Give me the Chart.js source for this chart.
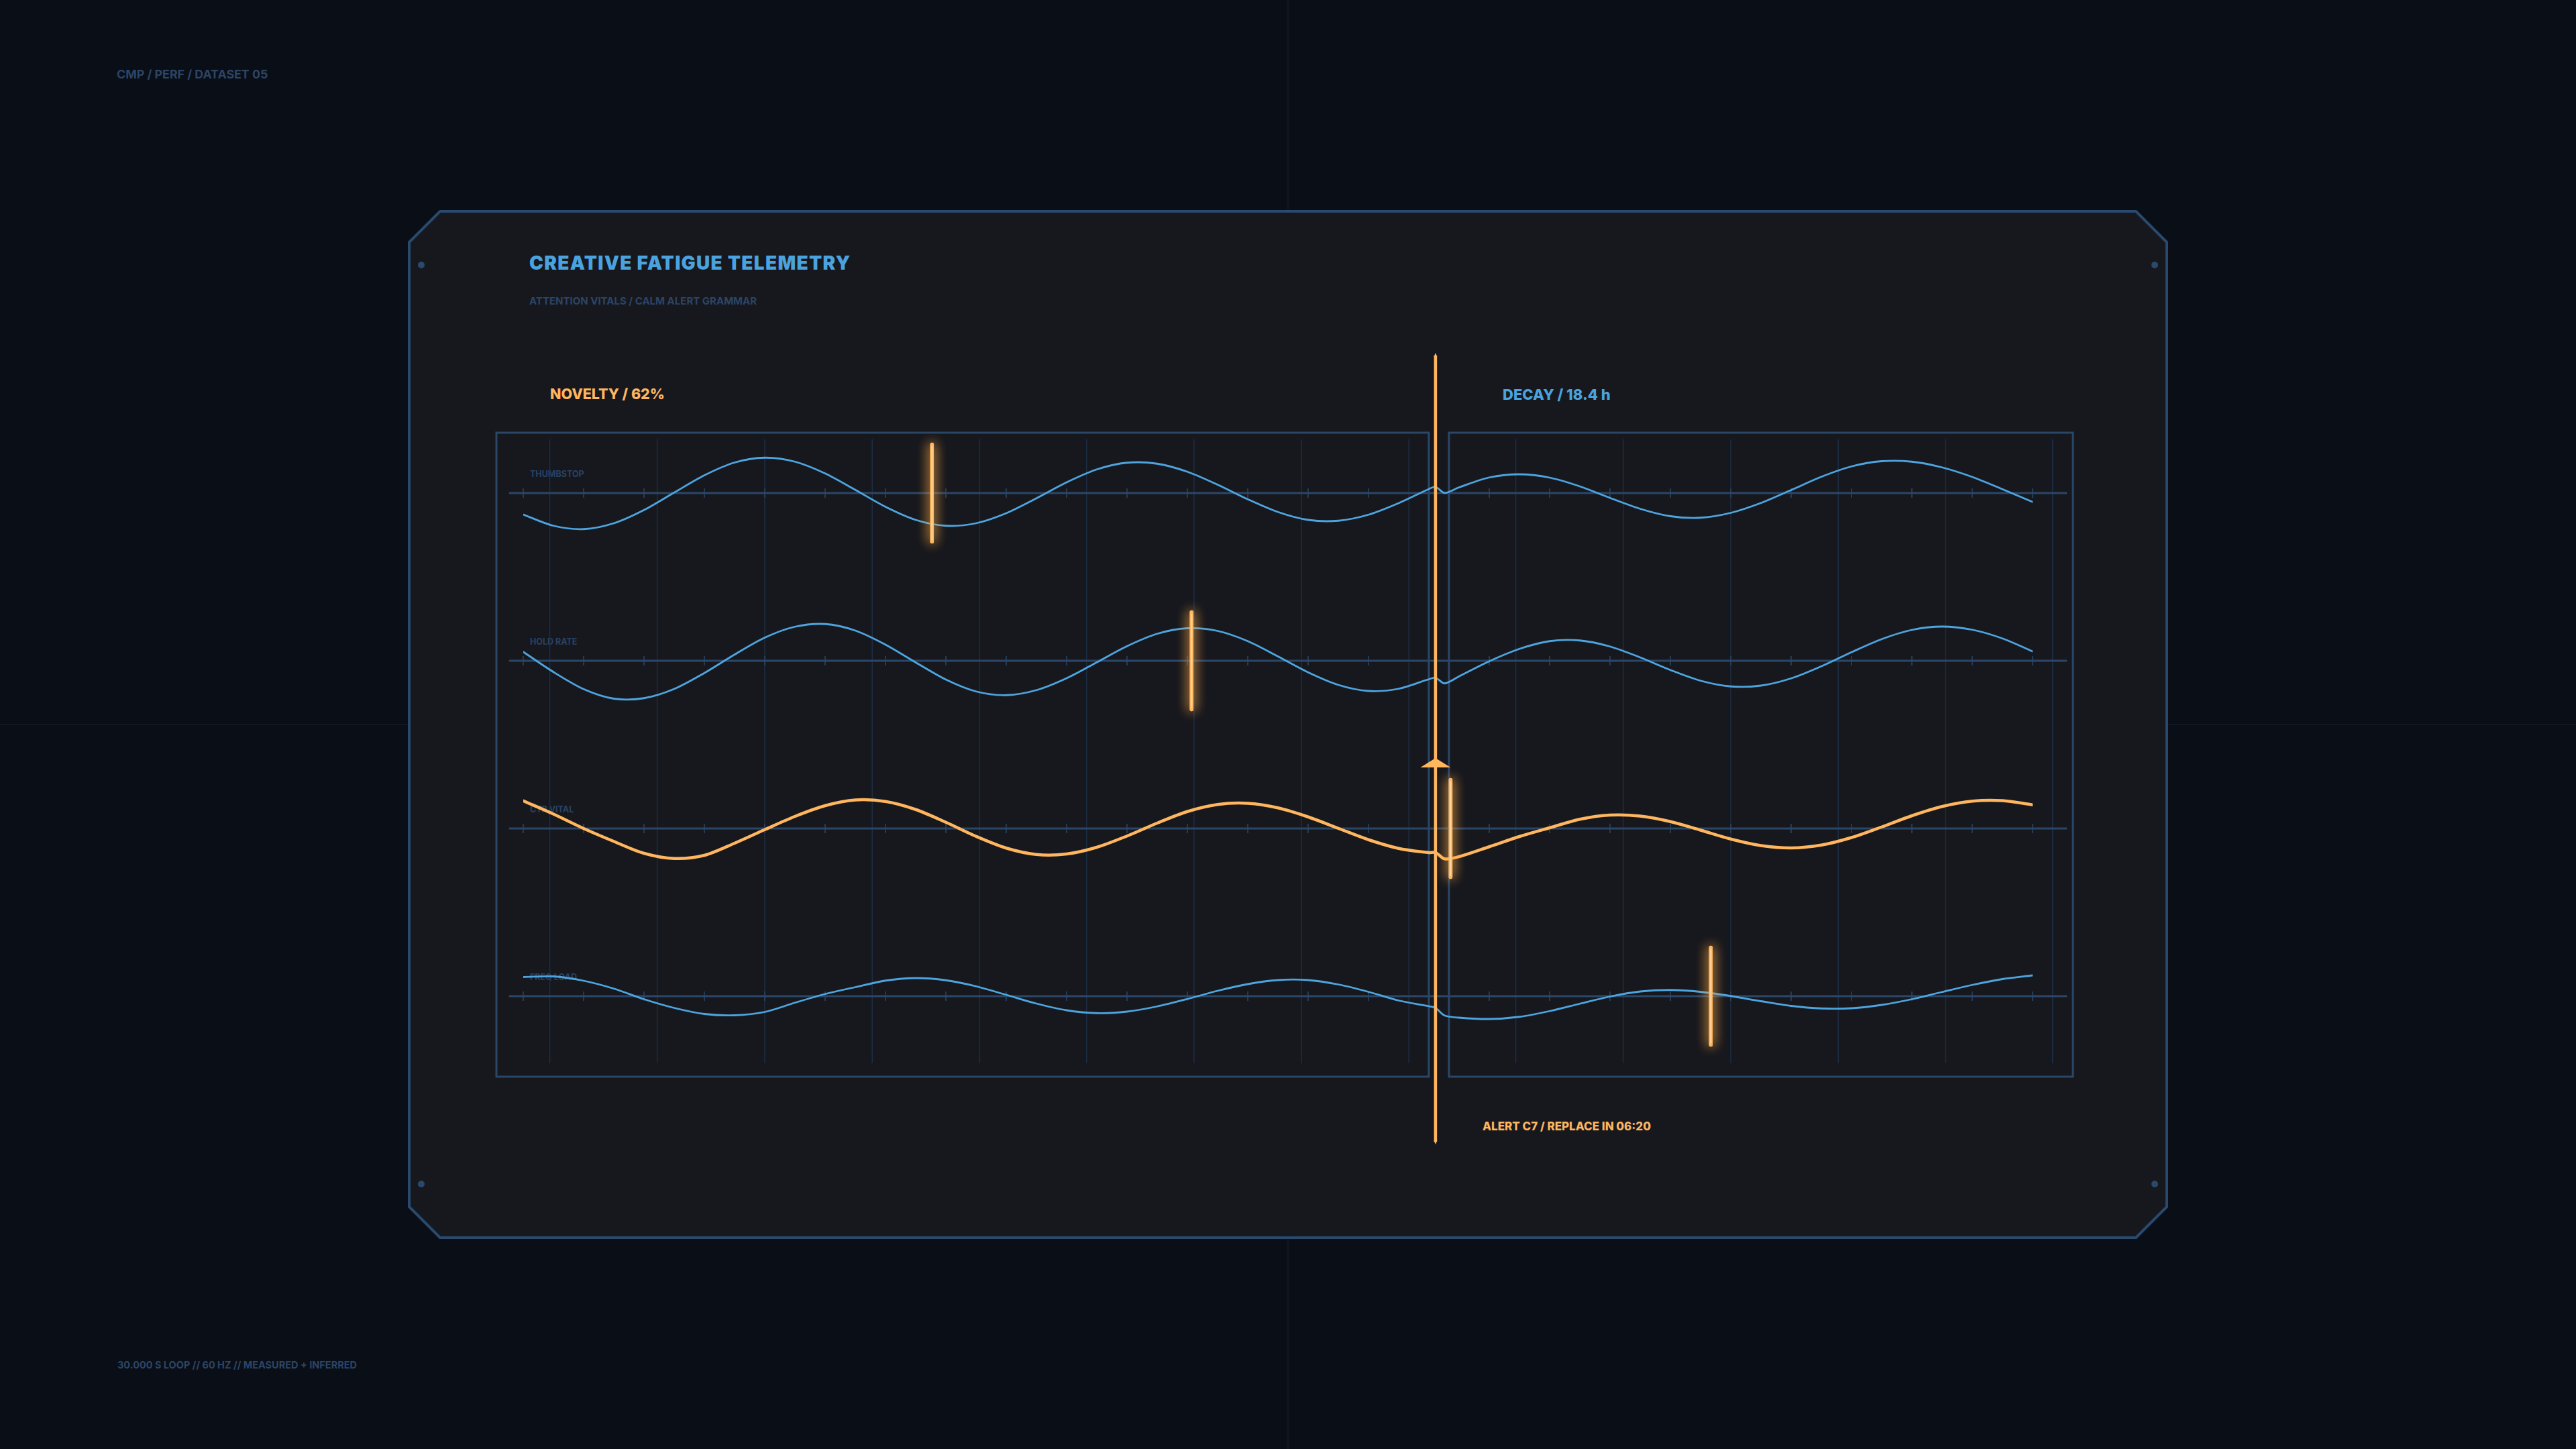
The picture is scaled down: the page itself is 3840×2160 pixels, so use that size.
<!DOCTYPE html>
<html>
<head>
<meta charset="utf-8">
<title>Creative Fatigue Telemetry</title>
<script src="https://cdn.jsdelivr.net/npm/chart.js@4.4.1/dist/chart.umd.min.js"></script>
<style>
  html, body { margin:0; padding:0; width:3840px; height:2160px; overflow:hidden; background:#0a0e16; }
  #stage { position:relative; width:3840px; height:2160px; font-family: Inter, "Noto Sans", "DejaVu Sans", sans-serif; }
  #frame { position:absolute; left:0; top:0; }
  #chart { position:absolute; left:0; top:0; width:3840px; height:2160px; }
  .txt { position:absolute; white-space:nowrap; line-height:1; transform:translateY(-50%); }
</style>
</head>
<body>
<div id="stage">
  <svg id="frame" width="3840" height="2160" viewBox="0 0 3840 2160">
    <line x1="1920" y1="0" x2="1920" y2="2160" stroke="#111722" stroke-width="2"/>
    <line x1="0" y1="1080" x2="3840" y2="1080" stroke="#111722" stroke-width="2"/>
    <polygon points="656,315 3184,315 3230,361 3230,1799 3184,1845 656,1845 610,1799 610,361" fill="#16181e" stroke="#2a4a6d" stroke-width="4"/>
    <circle cx="628" cy="395" r="5" fill="#2a4a6d"/>
    <circle cx="3212" cy="395" r="5" fill="#2a4a6d"/>
    <circle cx="628" cy="1765" r="5" fill="#2a4a6d"/>
    <circle cx="3212" cy="1765" r="5" fill="#2a4a6d"/>
  </svg>
  <div class="txt" style="left:174px;top:111px;font-size:17.8px;font-weight:700;color:#2c4566">CMP / PERF / DATASET 05</div>
  <div class="txt" style="left:789px;top:392px;font-size:28px;font-weight:900;letter-spacing:1.3px;color:#4aa3df">CREATIVE FATIGUE TELEMETRY</div>
  <div class="txt" style="left:789px;top:448px;font-size:15px;font-weight:700;color:#2c4566">ATTENTION VITALS / CALM ALERT GRAMMAR</div>
  <div class="txt" style="left:820px;top:588px;font-size:21.5px;font-weight:800;color:#ffb65e">NOVELTY / 62%</div>
  <div class="txt" style="left:2240px;top:588px;font-size:22px;font-weight:800;color:#4aa3df">DECAY / 18.4 h</div>
  <div class="txt" style="left:2210px;top:1679px;font-size:17px;font-weight:800;color:#ffb65e">ALERT C7 / REPLACE IN 06:20</div>
  <div class="txt" style="left:175px;top:2035px;font-size:14.5px;font-weight:700;color:#2c4566">30.000 S LOOP // 60 HZ // MEASURED + INFERRED</div>
  <div id="rowLabels"></div>
  <canvas id="chart" width="3840" height="2160"></canvas>
</div>
<script>
// ---- data ----
const xs = [0, 0.5, 1, 1.5, 2, 2.5, 3, 3.5, 4, 4.5, 5, 5.5, 6, 6.5, 7, 7.5, 8, 8.5, 9, 9.5,
            10, 10.5, 11, 11.5, 12, 12.5, 13, 13.5, 14, 14.5, 15, 15.11, 15.26, 15.5, 16, 16.5,
            17, 17.5, 18, 18.5, 19, 19.5, 20, 20.5, 21, 21.5, 22, 22.5, 23, 23.5, 24, 24.5, 25];

const rowNames = ['THUMBSTOP', 'HOLD RATE', 'CTR VITAL', 'FREQ LOAD'];

const thumbstop = [-12.8, -19.5, -21.5, -18.0, -10.1, 0.3, 10.6, 18.2, 21.1, 18.7,
                   11.7, 1.9, -8.2, -16.0, -19.5, -18.0, -12.0, -3.1, 6.4, 14.1,
                   18.1, 17.5, 12.7, 5.0, -3.7, -11.3, -16.0, -16.5, -12.9, -6.0,
                   2.4, 3.7, 0.1, 3.4, 9.3, 11.2, 9.2, 4.0, -2.9, -9.4,
                   -13.8, -14.7, -11.8, -5.9, 1.8, 9.7, 15.9, 19.0, 18.7, 15.3,
                   9.6, 2.3, -5.3];

const holdRate = [5.3, -6.7, -16.9, -22.6, -22.3, -16.8, -7.3, 3.7, 13.8, 20.3,
                  21.9, 18.0, 9.6, -1.0, -11.2, -18.3, -20.5, -17.5, -10.4, -0.9,
                  8.7, 16.1, 19.4, 17.8, 11.7, 2.6, -6.9, -14.4, -18.0, -16.7,
                  -11.0, -10.1, -13.5, -9.3, -0.3, 7.1, 11.7, 12.1, 8.5, 2.0,
                  -5.5, -11.9, -15.3, -14.8, -10.5, -3.3, 5.1, 12.9, 18.4, 20.4,
                  18.5, 13.3, 5.6];

const ctrVital = [16.5, 8.6, 0.0, -7.7, -14.8, -17.9, -16.0, -8.8, -0.7, 7.2,
                  13.6, 17.0, 16.1, 11.3, 3.7, -4.7, -11.7, -15.5, -15.2, -11.2,
                  -4.5, 3.2, 10.1, 14.3, 15.0, 12.3, 6.9, 0.1, -6.7, -11.9,
                  -14.4, -14.3, -18.1, -16.8, -10.9, -4.8, 0.4, 5.5, 8.0, 7.4,
                  4.1, -1.0, -6.3, -10.2, -11.6, -9.9, -5.4, 0.9, 7.6, 13.1,
                  16.3, 16.6, 14.1];

const freqLoad = [11.4, 11.8, 9.2, 4.5, -1.8, -7.0, -10.6, -11.4, -9.4, -3.9,
                  1.3, 5.4, 9.3, 10.8, 9.5, 5.9, 0.8, -4.4, -8.4, -10.1,
                  -9.2, -6.1, -1.7, 3.2, 7.2, 9.6, 9.6, 7.0, 2.6, -2.6,
                  -6.0, -7.0, -11.5, -12.8, -13.6, -12.3, -8.9, -4.5, -0.2, 2.8,
                  3.7, 2.6, 0.1, -3.0, -5.8, -7.3, -7.2, -5.2, -1.8, 2.5,
                  6.7, 10.2, 12.4];

const alertT   = [6.77, 11.07, 15.36, 19.67];
const alertRow = [0, 1, 2, 3];
const nowT = 15.11;
const tickT = [0,1,2,3,4,5,6,7,8,9,10,11,12,13,14,15,16,17,18,19,20,21,22,23,24,25];
const gridT = [0.44, 2.22, 4.0, 5.78, 7.56, 9.33, 11.11, 12.89, 14.67, 16.44, 18.22, 20.0, 21.78, 23.56, 25.33];

// ---- styles ----
const BLUE = '#4ea4de', ORANGE = '#ffb65e', DIM = '#2b4768', GRID = '#1d2e45';
const rowSeries = [thumbstop, holdRate, ctrVital, freqLoad];
const rowColor = [BLUE, BLUE, ORANGE, BLUE];
const rowWidth = [2.8, 2.8, 4.5, 2.8];
const rowRange = [[-350, 50], [-250, 150], [-150, 250], [-50, 350]];
const SPIKE_HALF = 29;

const datasets = rowSeries.map((vals, k) => ({
  label: rowNames[k],
  data: xs.map((x, i) => ({ x: x, y: vals[i] })),
  yAxisID: 'y' + k,
  borderColor: rowColor[k],
  borderWidth: rowWidth[k],
  pointRadius: 0,
  fill: false,
  tension: 0.3,
  borderJoinStyle: 'round',
  borderCapStyle: 'round'
}));

const scales = { x: { type: 'linear', min: 0, max: 25, display: false } };
rowRange.forEach((r, k) => { scales['y' + k] = { type: 'linear', min: r[0], max: r[1], display: false }; });

const decor = {
  id: 'decor',
  beforeDatasetsDraw(chart) {
    const { ctx, chartArea: a, scales: s } = chart;
    const x = s.x;
    const nowX = x.getPixelForValue(nowT);
    const top = a.top + 35, bot = a.bottom - 5;
    ctx.save();
    // grid
    ctx.strokeStyle = GRID; ctx.lineWidth = 1.5;
    gridT.forEach(g => {
      const px = x.getPixelForValue(g);
      ctx.beginPath(); ctx.moveTo(px, top + 10); ctx.lineTo(px, bot - 20); ctx.stroke();
    });
    // boxes
    ctx.strokeStyle = DIM; ctx.lineWidth = 3;
    ctx.strokeRect(a.left - 40, top, (nowX - 10) - (a.left - 40), bot - top);
    ctx.strokeRect(nowX + 20, top, (a.right + 60) - (nowX + 20), bot - top);
    // baselines + ticks
    for (let k = 0; k < rowNames.length; k++) {
      const y = s['y' + k].getPixelForValue(0);
      ctx.strokeStyle = DIM; ctx.lineWidth = 3; ctx.lineCap = 'round';
      ctx.beginPath(); ctx.moveTo(a.left - 20, y); ctx.lineTo(a.right + 50, y); ctx.stroke();
      ctx.lineWidth = 1.5; ctx.lineCap = 'butt';
      tickT.forEach(t => {
        const px = x.getPixelForValue(t);
        ctx.beginPath(); ctx.moveTo(px, y - 7); ctx.lineTo(px, y + 7); ctx.stroke();
      });
    }
    ctx.restore();
  },
  afterDatasetsDraw(chart) {
    const { ctx, chartArea: a, scales: s } = chart;
    const x = s.x;
    ctx.save();
    // alert spikes
    alertT.forEach((t, i) => {
      const ys = s['y' + alertRow[i]];
      const px = x.getPixelForValue(t);
      const y1 = ys.getPixelForValue(SPIKE_HALF), y2 = ys.getPixelForValue(-SPIKE_HALF);
      ctx.lineCap = 'round';
      ctx.shadowColor = 'rgba(255,170,70,0.9)'; ctx.shadowBlur = 18;
      ctx.strokeStyle = ORANGE; ctx.lineWidth = 5.5;
      ctx.beginPath(); ctx.moveTo(px, y1); ctx.lineTo(px, y2); ctx.stroke();
      ctx.stroke();
      ctx.shadowBlur = 0;
      ctx.strokeStyle = '#ffd9a6'; ctx.lineWidth = 1.8;
      ctx.beginPath(); ctx.moveTo(px, y1 + 3); ctx.lineTo(px, y2 - 3); ctx.stroke();
    });
    // now line
    const nowX = x.getPixelForValue(nowT);
    ctx.shadowBlur = 0;
    ctx.strokeStyle = ORANGE; ctx.lineWidth = 4.5; ctx.lineCap = 'butt';
    ctx.beginPath(); ctx.moveTo(nowX, a.top - 80); ctx.lineTo(nowX, a.bottom + 92); ctx.stroke();
    ctx.fillStyle = ORANGE;
    ctx.beginPath();
    ctx.moveTo(nowX, a.top - 84); ctx.lineTo(nowX + 2.5, a.top - 78); ctx.lineTo(nowX - 2.5, a.top - 78); ctx.closePath(); ctx.fill();
    ctx.beginPath();
    ctx.moveTo(nowX, a.bottom + 96); ctx.lineTo(nowX + 2.5, a.bottom + 90); ctx.lineTo(nowX - 2.5, a.bottom + 90); ctx.closePath(); ctx.fill();
    // marker triangle
    const tb = a.top + 534;
    ctx.beginPath();
    ctx.moveTo(nowX, tb - 14); ctx.lineTo(nowX + 22.5, tb); ctx.lineTo(nowX - 22.5, tb); ctx.closePath(); ctx.fill();
    ctx.restore();
  }
};

const chart = new Chart(document.getElementById('chart'), {
  type: 'line',
  data: { datasets: datasets },
  options: {
    responsive: false,
    maintainAspectRatio: false,
    devicePixelRatio: 1,
    animation: false,
    events: [],
    layout: { autoPadding: false, padding: { left: 780, right: 810, top: 610, bottom: 550 } },
    scales: scales,
    plugins: { legend: { display: false }, tooltip: { enabled: false }, title: { display: false } }
  },
  plugins: [decor]
});

// row labels placed from the row scales
const holder = document.getElementById('rowLabels');
rowNames.forEach((name, k) => {
  const d = document.createElement('div');
  d.className = 'txt';
  d.textContent = name;
  d.style.left = (chart.chartArea.left + 10) + 'px';
  d.style.top = (chart.scales['y' + k].getPixelForValue(0) - 28) + 'px';
  d.style.fontSize = '12.5px';
  d.style.fontWeight = '700';
  d.style.color = '#2a4263';
  holder.appendChild(d);
});
</script>
</body>
</html>
